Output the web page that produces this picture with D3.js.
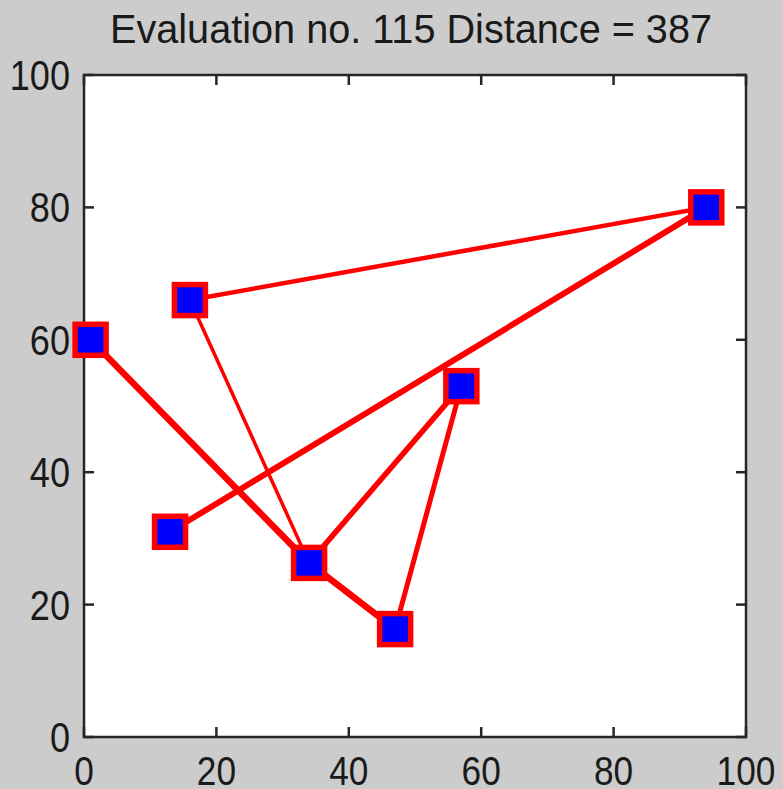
<!DOCTYPE html>
<html>
<head>
<meta charset="utf-8">
<script src="https://cdn.jsdelivr.net/npm/d3@7"></script>
<style>
  html, body { margin: 0; padding: 0; background: #cccccc; }
  svg { display: block; }
  text { font-family: "Liberation Sans", Arial, sans-serif; fill: #1a1a1a; }
</style>
</head>
<body>
<svg id="chart" width="783" height="789"></svg>
<script>
// City coordinates
const cityX = [1, 16, 94, 13, 34, 47, 57];
const cityY = [60, 66, 80, 31, 26.3, 16.3, 53];

// Order in which the cities are visited by the drawn route
const route = [0, 4, 5, 6, 4, 1, 2, 3];

// Stroke width of each leg of the route
const legWidths = [6.5, 6.5, 5, 5.5, 3.5, 4.5, 6];

const xTicks = [0, 20, 40, 60, 80, 100];
const yTicks = [0, 20, 40, 60, 80, 100];

const evaluation = 115;
const distance = 387;
const titleText = `Evaluation no. ${evaluation} Distance = ${distance}`;

const svg = d3.select("#chart");
const W = 783, H = 789;
const plotL = 84, plotR = 746, plotT = 75, plotB = 737;

svg.append("rect").attr("width", W).attr("height", H).attr("fill", "#cccccc");

const x = d3.scaleLinear().domain([0, 100]).range([plotL, plotR]);
const y = d3.scaleLinear().domain([0, 100]).range([plotB, plotT]);

// plot area
svg.append("rect")
  .attr("x", plotL).attr("y", plotT)
  .attr("width", plotR - plotL).attr("height", plotB - plotT)
  .attr("fill", "#ffffff");

const axisColor = "#262626";
const tickLen = 10;
const sx = 0.86; // narrow tick lettering

// ticks (inward on all four sides)
const tickG = svg.append("g").attr("stroke", axisColor).attr("stroke-width", 2.5);
xTicks.forEach(t => {
  tickG.append("line").attr("x1", x(t)).attr("x2", x(t)).attr("y1", plotB).attr("y2", plotB - tickLen);
  tickG.append("line").attr("x1", x(t)).attr("x2", x(t)).attr("y1", plotT).attr("y2", plotT + tickLen);
});
yTicks.forEach(t => {
  tickG.append("line").attr("y1", y(t)).attr("y2", y(t)).attr("x1", plotL).attr("x2", plotL + tickLen);
  tickG.append("line").attr("y1", y(t)).attr("y2", y(t)).attr("x1", plotR).attr("x2", plotR - tickLen);
});

// frame
svg.append("rect")
  .attr("x", plotL).attr("y", plotT)
  .attr("width", plotR - plotL).attr("height", plotB - plotT)
  .attr("fill", "none").attr("stroke", axisColor).attr("stroke-width", 2.5);

// tick labels
xTicks.forEach(t => {
  svg.append("text")
    .attr("transform", `translate(${x(t)},785) scale(${sx},1)`)
    .attr("text-anchor", "middle")
    .attr("font-size", 41)
    .text(t);
});
yTicks.forEach(t => {
  svg.append("text")
    .attr("transform", `translate(70,${y(t) + 15}) scale(${sx},1)`)
    .attr("text-anchor", "end")
    .attr("font-size", 42)
    .text(t);
});

// title
svg.append("text")
  .attr("x", 411).attr("y", 43)
  .attr("text-anchor", "middle")
  .attr("font-size", 40)
  .attr("textLength", 602)
  .attr("lengthAdjust", "spacingAndGlyphs")
  .text(titleText);

// route legs
const legs = d3.pairs(route);
svg.append("g").selectAll("line")
  .data(legs)
  .join("line")
  .attr("x1", d => x(cityX[d[0]]))
  .attr("y1", d => y(cityY[d[0]]))
  .attr("x2", d => x(cityX[d[1]]))
  .attr("y2", d => y(cityY[d[1]]))
  .attr("stroke", "#ff0000")
  .attr("stroke-width", (d, i) => legWidths[i])
  .attr("stroke-linecap", "round");

// city markers
const m = 31;
svg.append("g").selectAll("rect")
  .data(cityX.map((cx, i) => [cx, cityY[i]]))
  .join("rect")
  .attr("x", d => x(d[0]) - m / 2)
  .attr("y", d => y(d[1]) - m / 2)
  .attr("width", m).attr("height", m)
  .attr("fill", "#0000ff")
  .attr("stroke", "#ff0000")
  .attr("stroke-width", 5.5);
</script>
</body>
</html>
